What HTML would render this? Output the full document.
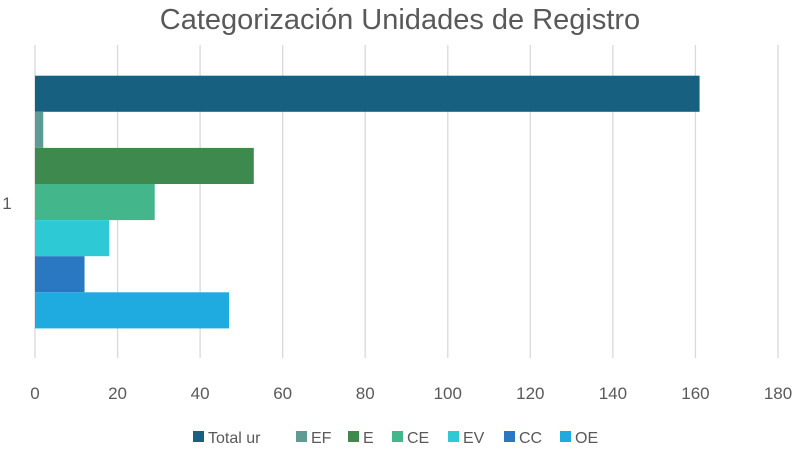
<!DOCTYPE html>
<html><head><meta charset="utf-8"><style>
html,body{margin:0;padding:0;background:#fff;width:800px;height:451px;overflow:hidden}
svg text{font-family:"Liberation Sans",sans-serif;fill:#595959}
</style></head><body>
<svg id="chart" width="800" height="451" viewBox="0 0 800 451" xmlns="http://www.w3.org/2000/svg">
<text x="400" y="29" text-anchor="middle" font-size="29">Categorización Unidades de Registro</text>
<g id="grid"></g><g id="bars"></g><g id="ticks"></g>
<text x="7" y="209" font-size="17" text-anchor="middle">1</text>
<g id="legend"></g>
</svg>
<script>
const categories=["Total ur","EF","E","CE","EV","CC","OE"];
const values=[161,2,53,29,18,12,47];
const colors=["#17607f","#5f9b95","#3e8a4e","#44b68c","#2dcad6","#2a77c2","#1faae0"];
const ticks=[0,20,40,60,80,100,120,140,160,180];
const NS="http://www.w3.org/2000/svg";
const x0=35,x1=778,maxV=180,yTop=75.7,bh=36.1;
const xs=v=>x0+v/maxV*(x1-x0);
function mk(t,a,p){const e=document.createElementNS(NS,t);for(const k in a)e.setAttribute(k,a[k]);p.appendChild(e);return e;}
const g=document.getElementById('grid'),b=document.getElementById('bars'),tk=document.getElementById('ticks'),lg=document.getElementById('legend');
ticks.forEach(t=>{
 const l=mk('line',{x1:xs(t),x2:xs(t),y1:45,y2:358,stroke:'#d9d9d9','stroke-width':1.3},g);
 
 
 const tx=mk('text',{x:xs(t),y:399,'font-size':17,'text-anchor':'middle'},tk);
 tx.textContent=t;
 
 
});
values.forEach((v,i)=>{
 const r=mk('rect',{x:x0,y:yTop+i*bh,width:xs(v)-x0,height:bh,fill:colors[i]},b);
 
 
});
const lx=[193,296,348,392,448,504,560];
categories.forEach((c,i)=>{
 const it=mk('g',{},lg);
 
 
 mk('rect',{x:lx[i],y:431,width:11,height:11,fill:colors[i]},it);
 const t=mk('text',{x:lx[i]+15,y:443,'font-size':16},it);
 t.textContent=c;
});
</script>
</body></html>
